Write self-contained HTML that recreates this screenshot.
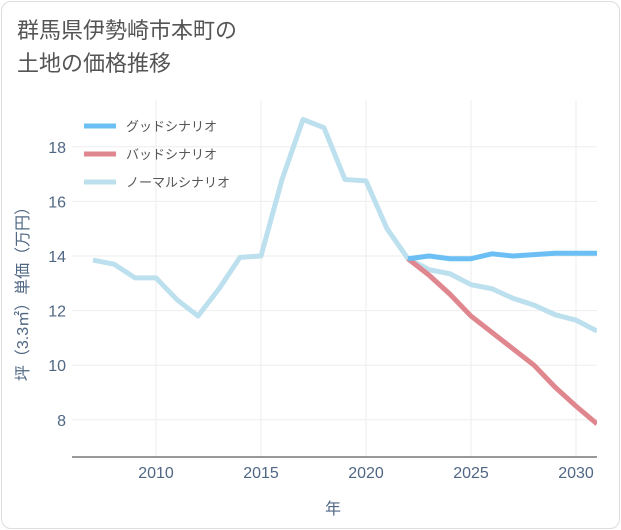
<!DOCTYPE html>
<html><head><meta charset="utf-8">
<style>
body{margin:0;background:#fff;font-family:"Liberation Sans","Noto Sans CJK JP",sans-serif;}
#card{position:absolute;left:1px;top:1px;width:617px;height:526px;border:1px solid #ddd;border-radius:10px;background:#fff;}
#title{position:absolute;left:17px;top:14px;font-size:22px;line-height:33px;color:#555;}
svg{position:absolute;left:0;top:0;}
</style></head><body>
<div id="card"></div>
<div id="title">群馬県伊勢崎市本町の<br>土地の価格推移</div>
<svg id="chart" width="621" height="530"></svg>
<script>
const years=[2007,2008,2009,2010,2011,2012,2013,2014,2015,2016,2017,2018,2019,2020,2021,2022,2023,2024,2025,2026,2027,2028,2029,2030,2031];
const normalVals=[13.85,13.7,13.2,13.2,12.4,11.8,12.8,13.95,14.0,16.8,19.0,18.7,16.8,16.75,15.0,13.9,13.5,13.35,12.95,12.8,12.45,12.2,11.85,11.65,11.25];
const futureYears=[2022,2023,2024,2025,2026,2027,2028,2029,2030,2031];
const goodVals=[13.9,14.0,13.9,13.9,14.08,14.0,14.05,14.1,14.1,14.1];
const badVals=[13.9,13.3,12.6,11.8,11.2,10.6,10.0,9.2,8.5,7.85];
const xTicks=[2010,2015,2020,2025,2030];
const yTicks=[8,10,12,14,16,18];
const NS='http://www.w3.org/2000/svg';
const svg=document.getElementById('chart');
const X0=72,X1=597,Y0=100,Y1=457;
const TC='#506784';
const xs=y=>156+(y-2010)*21;
const ys=v=>256-(v-14)*27.3;
function mk(t,a){const e=document.createElementNS(NS,t);for(const k in a)e.setAttribute(k,a[k]);svg.appendChild(e);return e;}
for(const t of yTicks){
 const g=mk('line',{x1:X0,x2:X1,y1:ys(t),y2:ys(t),stroke:'#eee','stroke-width':1});
 
 
 const l=mk('text',{x:66,y:ys(t)+6,'text-anchor':'end','font-size':16,fill:TC});
 l.textContent=t;
 
 
}
for(const t of xTicks){
 const g=mk('line',{x1:xs(t),x2:xs(t),y1:Y0,y2:Y1,stroke:'#eee','stroke-width':1});
 
 
 const l=mk('text',{x:xs(t),y:478,'text-anchor':'middle','font-size':16,fill:TC});
 l.textContent=t;
 
 
}
const ax=mk('line',{x1:X0,x2:X1,y1:Y1,y2:Y1,stroke:'#333','stroke-width':1});


const xt=mk('text',{x:333,y:514,'text-anchor':'middle','font-size':16,fill:TC});
xt.textContent='年';


const yt=mk('text',{x:0,y:0,'text-anchor':'middle','font-size':16,fill:TC,transform:'translate(28,290) rotate(-90)'});
yt.textContent='坪（3.3㎡）単価（万円）';


const defs=mk('clipPath',{id:'clip'});
const cr=document.createElementNS(NS,'rect');cr.setAttribute('x',X0);cr.setAttribute('y',Y0);cr.setAttribute('width',X1-X0);cr.setAttribute('height',Y1-Y0);defs.appendChild(cr);
function line(xa,va,color,name){
 const p=mk('polyline',{points:xa.map((y,i)=>xs(y)+','+ys(va[i])).join(' '),fill:'none',stroke:color,'stroke-width':5,'stroke-linejoin':'round','clip-path':'url(#clip)'});
 
 
}
line(years,normalVals,'#bde0ee','normal-line');
line(futureYears,badVals,'#e0868e','bad-line');
line(futureYears,goodVals,'#6cbff5','good-line');
const leg=[['グッドシナリオ','#6cbff5','legend-good'],['バッドシナリオ','#e0868e','legend-bad'],['ノーマルシナリオ','#bde0ee','legend-normal']];
leg.forEach((l,i)=>{
 const y=126+i*28;
 const s=mk('line',{x1:84,x2:116,y1:y,y2:y,stroke:l[1],'stroke-width':5});
 
 
 const t=mk('text',{x:126,y:y+5,'font-size':13,fill:'#555'});
 t.textContent=l[0];
 
 
});
</script>
</body></html>
